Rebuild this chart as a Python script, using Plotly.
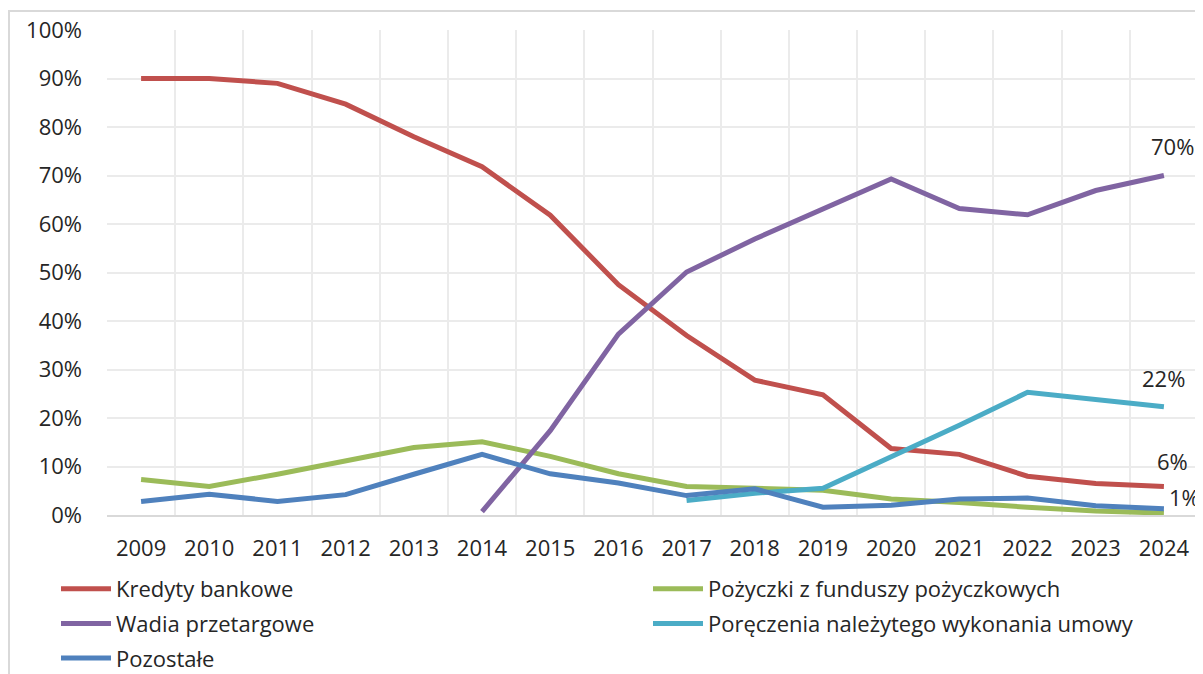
import plotly.graph_objects as go

years = [str(y) for y in range(2009, 2025)]

kredyty = [90.0, 90.0, 89.0, 84.7, 78.0, 71.8, 61.8, 47.5, 37.0, 27.8, 24.8, 13.7, 12.5, 8.0, 6.5, 5.9]
pozyczki = [7.3, 5.9, 8.4, 11.1, 13.9, 15.1, 12.1, 8.5, 5.9, 5.5, 5.1, 3.3, 2.6, 1.6, 0.8, 0.4]
wadia = [None, None, None, None, None, 0.7, 17.4, 37.3, 50.1, 56.9, 63.2, 69.3, 63.2, 61.9, 66.9, 70.0]
poreczenia = [None, None, None, None, None, None, None, None, 3.0, 4.5, 5.5, 11.9, 18.5, 25.3, 23.9, 22.3]
pozostale = [2.8, 4.3, 2.8, 4.2, 8.4, 12.5, 8.5, 6.6, 4.0, 5.4, 1.6, 2.0, 3.3, 3.5, 1.9, 1.3]

names = ["Kredyty bankowe", "Pożyczki z funduszy pożyczkowych", "Wadia przetargowe",
         "Poręczenia należytego wykonania umowy", "Pozostałe"]
colors = ["#C0504D", "#9BBB59", "#8064A2", "#4BACC6", "#4F81BD"]
series = [kredyty, pozyczki, wadia, poreczenia, pozostale]
legend_col = ["legend", "legend2", "legend", "legend2", "legend"]

FONT = "Open Sans"
FS = 22
TXT = "#262626"

# page body has an 8px margin; figure size/margins compensate so the plot lands where wanted
OFF = 8
W, H = 1203 - OFF, 674 - OFF
L, T = 107 - OFF, 30 - OFF
R = W - (1198 - OFF)
B = H - (515 - OFF)
pw, ph = W - L - R, H - T - B


def px_x(sx):
    return (sx - OFF - L) / pw


def px_y(sy):
    return ((T + ph) - (sy - OFF)) / ph


fig = go.Figure()
for i, (name, vals, col, lg) in enumerate(zip(names, series, colors, legend_col)):
    fig.add_trace(go.Scatter(x=years, y=[None if v is None else v / 100 for v in vals],
                             mode="lines", name=name, legend=lg, legendgroup=f"g{i}",
                             line=dict(color=col, width=5), connectgaps=False))

# end-of-series labels: (series, xshift, yshift)
last = len(years) - 1
labels = [(wadia, 9, 30), (poreczenia, 0, 29), (kredyty, 9, 25), (pozostale, 21, 12)]
for vals, xs, ys in labels:
    v = vals[-1]
    fig.add_annotation(x=last, y=v / 100, text=f"{round(v):.0f}%", showarrow=False,
                       xshift=xs, yshift=ys, font=dict(family=FONT, size=FS, color=TXT))

fig.add_shape(type="rect", xref="paper", yref="paper",
              x0=px_x(9), x1=px_x(1220), y0=px_y(700), y1=px_y(11),
              line=dict(color="#d9d9d9", width=2), layer="below")

leg_common = dict(orientation="v", xanchor="left", yanchor="top",
                  font=dict(family=FONT, size=FS, color=TXT),
                  itemwidth=50, tracegroupgap=3, bgcolor="rgba(0,0,0,0)")

fig.update_layout(
    width=W, height=H,
    margin=dict(l=L, r=R, t=T, b=B, autoexpand=False),
    paper_bgcolor="white", plot_bgcolor="white",
    font=dict(family=FONT, size=FS, color=TXT),
    showlegend=True,
    legend=dict(x=px_x(56), y=px_y(568), **leg_common),
    legend2=dict(x=px_x(648), y=px_y(568), **leg_common),
    xaxis=dict(type="category", range=[-0.5, len(years) - 0.5], tickson="boundaries",
               showgrid=True, gridcolor="#ebebeb",
               gridwidth=1.5, showline=True, linecolor="#d9d9d9", linewidth=1.5, ticks="",
               tickangle=0, tickfont=dict(family=FONT, size=FS), ticklabelstandoff=13,
               fixedrange=True),
    yaxis=dict(range=[0, 1], tickformat=".0%", dtick=0.1, showgrid=True, gridcolor="#ebebeb",
               gridwidth=1.5, zeroline=False, showline=False, ticks="",
               tickfont=dict(family=FONT, size=FS), ticklabelstandoff=24, fixedrange=True),
)
fig.write_html("out.html")
